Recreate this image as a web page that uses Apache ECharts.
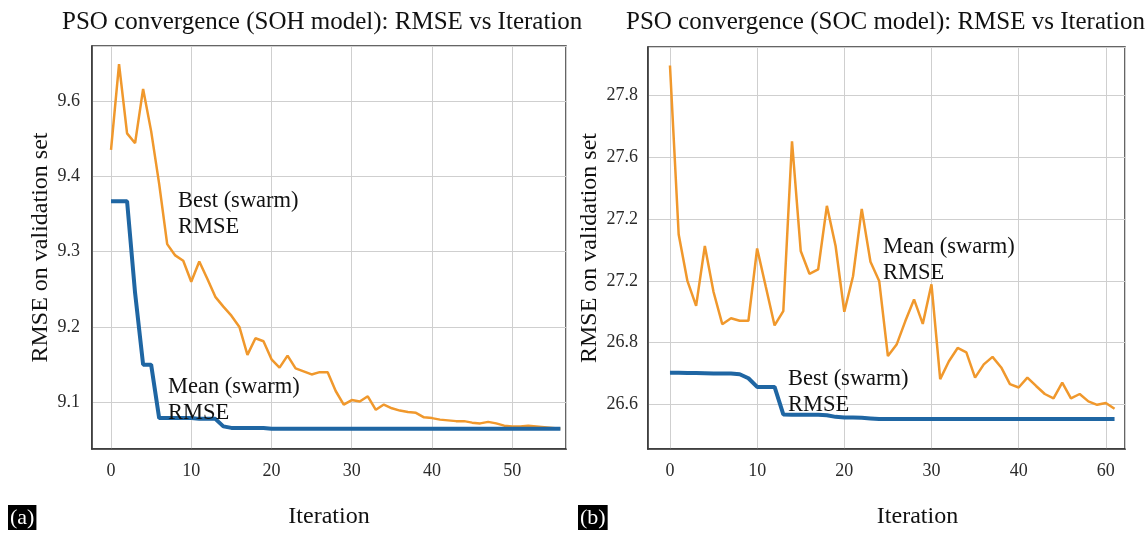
<!DOCTYPE html>
<html>
<head>
<meta charset="utf-8">
<script src="https://cdn.jsdelivr.net/npm/echarts@6/dist/echarts.min.js"></script>
<style>
html,body{margin:0;padding:0;background:#fff;}
#chart{width:1147px;height:534px;}
</style>
</head>
<body>
<div id="chart"></div>
<script>
// ---------- DATA ----------
// Panel (a): SOH model, iterations 0..56
const orangeA = [
  9.435, 9.549, 9.457, 9.444, 9.516, 9.460, 9.390, 9.310, 9.295, 9.288,
  9.260, 9.287, 9.264, 9.240, 9.227, 9.215, 9.200, 9.163, 9.185, 9.181,
  9.157, 9.146, 9.162, 9.145, 9.141, 9.137, 9.140, 9.140, 9.115, 9.097,
  9.103, 9.101, 9.108, 9.090, 9.097, 9.092, 9.089, 9.087, 9.086, 9.080,
  9.079, 9.077, 9.076, 9.075, 9.075, 9.073, 9.072, 9.074, 9.072, 9.069,
  9.068, 9.068, 9.069, 9.068, 9.067, 9.066, 9.065
];
const blueA = [
  9.367, 9.367, 9.367, 9.245, 9.150, 9.150, 9.079, 9.079, 9.079, 9.079,
  9.079, 9.078, 9.078, 9.078, 9.068, 9.066, 9.066, 9.066, 9.066, 9.066,
  9.065, 9.065, 9.065, 9.065, 9.065, 9.065, 9.065, 9.065, 9.065, 9.065,
  9.065, 9.065, 9.065, 9.065, 9.065, 9.065, 9.065, 9.065, 9.065, 9.065,
  9.065, 9.065, 9.065, 9.065, 9.065, 9.065, 9.065, 9.065, 9.065, 9.065,
  9.065, 9.065, 9.065, 9.065, 9.065, 9.065, 9.065
];
const yTickValuesA = [9.1, 9.2, 9.3, 9.4, 9.5];
const yTickLabelsA = ['9.1', '9.2', '9.3', '9.4', '9.6'];
const xTickValuesA = [0, 10, 20, 30, 40, 50];
const xTickLabelsA = ['0', '10', '20', '30', '40', '50'];

// Panel (b): SOC model, iterations 0..51
const orangeB = [
  27.697, 27.150, 27.000, 26.919, 27.113, 26.964, 26.860, 26.879, 26.871, 26.871,
  27.105, 26.980, 26.856, 26.902, 27.452, 27.097, 27.023, 27.037, 27.243, 27.113,
  26.900, 27.015, 27.233, 27.062, 27.000, 26.757, 26.794, 26.870, 26.940, 26.861,
  26.989, 26.682, 26.740, 26.783, 26.769, 26.687, 26.730, 26.754, 26.720, 26.666,
  26.655, 26.687, 26.660, 26.634, 26.620, 26.671, 26.620, 26.634, 26.610, 26.599,
  26.605, 26.586
];
const blueB = [
  26.703, 26.703, 26.702, 26.702, 26.701, 26.700, 26.700, 26.700, 26.698, 26.685,
  26.657, 26.657, 26.657, 26.568, 26.567, 26.567, 26.567, 26.567, 26.565, 26.560,
  26.558, 26.558, 26.557, 26.555, 26.553, 26.553, 26.553, 26.553, 26.553, 26.553,
  26.553, 26.553, 26.553, 26.553, 26.553, 26.553, 26.553, 26.553, 26.553, 26.553,
  26.553, 26.553, 26.553, 26.553, 26.553, 26.553, 26.553, 26.553, 26.553, 26.553,
  26.553, 26.553
];
const yTickValuesB = [26.6, 26.8, 27.0, 27.2, 27.4, 27.6];
const yTickLabelsB = ['26.6', '26.8', '27.2', '27.2', '27.6', '27.8'];
const xTickValuesB = [0, 10, 20, 30, 40, 50];
const xTickLabelsB = ['0', '10', '20', '30', '40', '60'];

const titles = ['PSO convergence (SOH model): RMSE vs Iteration', 'PSO convergence (SOC model): RMSE vs Iteration'];
const yName = 'RMSE on validation set';
const xName = 'Iteration';

// ---------- CHART ----------
const FONT = "'Liberation Serif','DejaVu Serif',serif";
const ORANGE = '#F0982C';
const BLUE = '#1F66A3';
const GRIDC = '#cfcfcf';

function toPairs(arr){ return arr.map((v,i)=>[i,v]); }
function mapper(vals, labels){
  return function(v){
    for (let i=0;i<vals.length;i++){ if (Math.abs(v-vals[i])<1e-6) return labels[i]; }
    return '';
  };
}

const chart = echarts.init(document.getElementById('chart'), null, {renderer:'canvas'});

const axisCommon = {
  axisLine:{show:true, onZero:false, lineStyle:{color:'#333', width:1.5}},
  axisTick:{show:false},
  splitLine:{show:true, lineStyle:{color:GRIDC, width:1}},
  axisLabel:{fontFamily:FONT, fontSize:18, color:'#2a2a2a'}
};
const nameStyle = {fontFamily:FONT, fontSize:24, color:'#111'};

const option = {
  backgroundColor:'#fff',
  animation:false,
  title:[
    {text:titles[0], left:57, top:5, textStyle:{fontFamily:FONT, fontSize:25, fontWeight:'normal', color:'#111'}},
    {text:titles[1], left:621, top:5, textStyle:{fontFamily:FONT, fontSize:25, fontWeight:'normal', color:'#111'}}
  ],
  grid:[
    {left:92, top:46, right:581, bottom:80, show:true, borderColor:'#333', borderWidth:1.5, backgroundColor:'#fff'},
    {left:648, top:47, right:22, bottom:80, show:true, borderColor:'#333', borderWidth:1.5, backgroundColor:'#fff'}
  ],
  xAxis:[
    Object.assign({}, axisCommon, {
      type:'value', gridIndex:0, min:-2.37, max:56.7, splitNumber:5,
      axisLabel:Object.assign({}, axisCommon.axisLabel, {margin:13, formatter:mapper(xTickValuesA, xTickLabelsA)}),
      name:xName, nameLocation:'middle', nameGap:56, nameTextStyle:nameStyle
    }),
    Object.assign({}, axisCommon, {
      type:'value', gridIndex:1, min:-2.52, max:52.2, splitNumber:5,
      axisLabel:Object.assign({}, axisCommon.axisLabel, {margin:13, formatter:mapper(xTickValuesB, xTickLabelsB)}),
      name:xName, nameLocation:'middle', nameGap:56,
      nameTextStyle:Object.assign({}, nameStyle, {padding:[0,0,0,62]})
    })
  ],
  yAxis:[
    Object.assign({}, axisCommon, {
      type:'value', gridIndex:0, min:9.038, max:9.573, splitNumber:5,
      axisLabel:Object.assign({}, axisCommon.axisLabel, {margin:12, formatter:mapper(yTickValuesA, yTickLabelsA)}),
      name:yName, nameLocation:'middle', nameGap:39, nameTextStyle:nameStyle
    }),
    Object.assign({}, axisCommon, {
      type:'value', gridIndex:1, min:26.456, max:27.757, splitNumber:7,
      axisLabel:Object.assign({}, axisCommon.axisLabel, {margin:10, formatter:mapper(yTickValuesB, yTickLabelsB)}),
      name:yName, nameLocation:'middle', nameGap:46, nameTextStyle:nameStyle
    })
  ],
  series:[
    {type:'line', xAxisIndex:0, yAxisIndex:0, data:toPairs(orangeA), showSymbol:false, lineStyle:{color:ORANGE, width:2.5}, z:3},
    {type:'line', xAxisIndex:0, yAxisIndex:0, data:toPairs(blueA), showSymbol:false, lineStyle:{color:BLUE, width:4}, z:4},
    {type:'line', xAxisIndex:1, yAxisIndex:1, data:toPairs(orangeB), showSymbol:false, lineStyle:{color:ORANGE, width:2.5}, z:3},
    {type:'line', xAxisIndex:1, yAxisIndex:1, data:toPairs(blueB), showSymbol:false, lineStyle:{color:BLUE, width:4}, z:4}
  ],
  graphic:[
    {type:'text', left:178, top:188, z:10, style:{text:'Best (swarm)\nRMSE', font:"22.5px 'Liberation Serif'", fill:'#111', lineHeight:26}},
    {type:'text', left:168, top:374, z:10, style:{text:'Mean (swarm)\nRMSE', font:"22.5px 'Liberation Serif'", fill:'#111', lineHeight:26}},
    {type:'text', left:883, top:234, z:10, style:{text:'Mean (swarm)\nRMSE', font:"22.5px 'Liberation Serif'", fill:'#111', lineHeight:26}},
    {type:'text', left:788, top:366, z:10, style:{text:'Best (swarm)\nRMSE', font:"22.5px 'Liberation Serif'", fill:'#111', lineHeight:26}},
    {type:'text', left:8, top:505, z:10, style:{text:'(a)', font:"22px 'Liberation Serif'", fill:'#fff', backgroundColor:'#000', padding:[2,2,1,2]}},
    {type:'text', left:578, top:505, z:10, style:{text:'(b)', font:"22px 'Liberation Serif'", fill:'#fff', backgroundColor:'#000', padding:[2,2,1,2]}}
  ]
};
chart.setOption(option);
</script>
</body>
</html>
